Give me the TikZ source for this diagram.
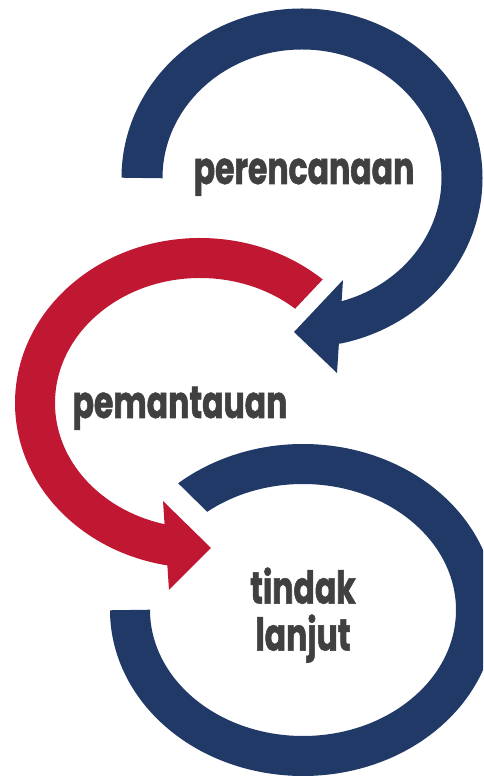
\documentclass[tikz,border=0pt]{standalone}
\usepackage{fontspec}
\newfontfamily\cyclefont[FakeStretch=0.7,FakeBold=1.2]{Poppins}
\usetikzlibrary{calc}
\definecolor{navy}{HTML}{213966}
\definecolor{crimson}{HTML}{C01733}
\definecolor{textgrey}{HTML}{404040}

\begin{document}
\begin{tikzpicture}[x=1pt,y=1pt,
        band/.style={line width=40pt},
        gapline/.style={white,line width=#1},
        lbl/.style={text=textgrey,inner sep=0pt,
          font=\cyclefont\bfseries\fontsize{45}{47}\selectfont}]
        \clip (0,0) rectangle (483,776);
        \coordinate (ctop) at (302,598);
        \coordinate (cmid) at (200,373);
        \coordinate (cbot) at (303,166);
        % lower loop
        \draw[band,navy] ($(cbot)+(133:173 and 146)$)
          arc[start angle=133,end angle=-180,x radius=173,y radius=146];
        \draw[gapline=46pt] (152,286) -- (211,228);
        % middle loop
        \draw[band,crimson] ($(cmid)+(44:165 and 145)$)
          arc[start angle=44,end angle=260,x radius=165,y radius=145];
        \fill[crimson] (163,275) -- (211,228) -- (169,186) -- cycle;
        \draw[gapline=30pt] (294,444) -- (343,496);
        % upper loop
        \draw[band,navy,line width=41pt] ($(ctop)+(180:160 and 149)$)
          arc[start angle=180,end angle=-78,x radius=160,y radius=149];
        \fill[navy] (343,496) -- (294,444) -- (337,403) -- cycle;
        % labels
        \node[lbl,anchor=base] (plan) at (304,592) {perencanaan};
        \node[lbl,anchor=base] (monitor) at (180,358) {pemantauan};
        \node[lbl,align=center] (followup) at (303,161) {tindak\\lanjut};
      \end{tikzpicture}
\end{document}
